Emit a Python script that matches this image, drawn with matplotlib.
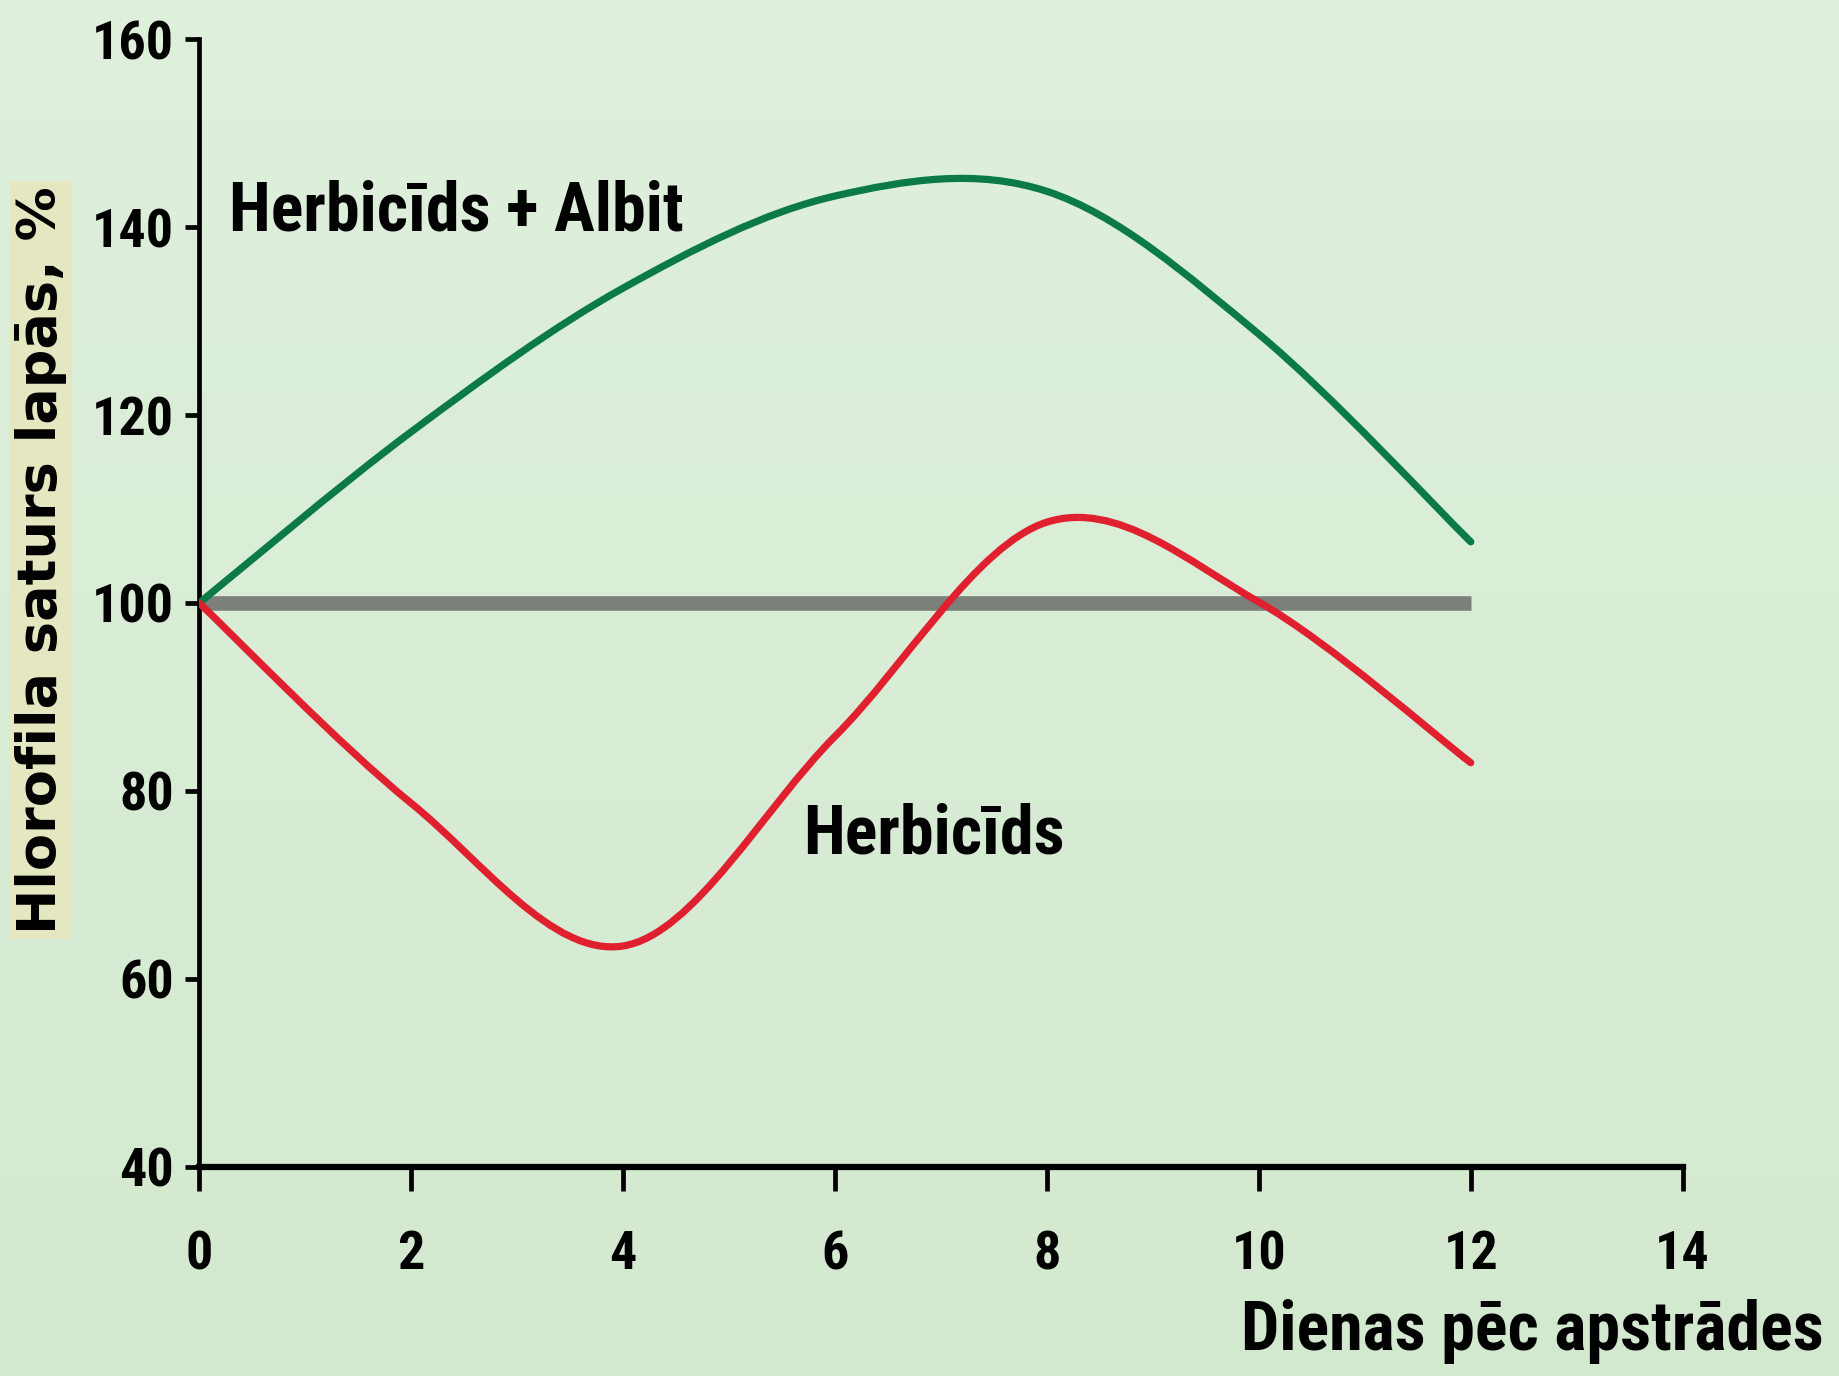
import numpy as np
import matplotlib

matplotlib.use("Agg")
import matplotlib.pyplot as plt
from matplotlib.path import Path
from matplotlib.patches import PathPatch

# days after treatment and chlorophyll content (% of control)
days = [0, 2, 4, 6, 8, 10, 12]
albit = [100, 118.2, 133.5, 143.3, 143.8, 128.6, 106.5]
herb = [100, 78.7, 63.5, 85.8, 108.6, 100.1, 83.0]
control_x = [0, 12]
control_y = [100, 100]

x_ticks = [0, 2, 4, 6, 8, 10, 12, 14]
y_ticks = [40, 60, 80, 100, 120, 140, 160]

NARROW = ["Roboto Condensed", "PT Sans Narrow", "Liberation Sans Narrow", "DejaVu Sans"]
GREEN = "#0b7a46"
RED = "#e01f2f"
GREY = "#7b807a"


def smooth(ax, xs, ys, **kw):
    # smoothed line like a spreadsheet chart: cubic Bezier through the points
    pts = np.column_stack([xs, ys]).astype(float)
    ext = np.vstack([pts[0], pts, pts[-1]])
    verts = [tuple(pts[0])]
    codes = [Path.MOVETO]
    for i in range(len(pts) - 1):
        p0, p1, p2, p3 = ext[i], ext[i + 1], ext[i + 2], ext[i + 3]
        verts += [tuple(p1 + (p2 - p0) / 6), tuple(p2 - (p3 - p1) / 6), tuple(p2)]
        codes += [Path.CURVE4] * 3
    ax.add_patch(PathPatch(Path(verts, codes), fill=False, capstyle="round", **kw))


fig = plt.figure(figsize=(18.39, 13.76), dpi=100)

# soft green background gradient
bg = fig.add_axes([0, 0, 1, 1], zorder=-10)
grad = np.linspace(0, 1, 256).reshape(-1, 1)
cmap = matplotlib.colors.LinearSegmentedColormap.from_list("bg", ["#dff0dd", "#d3e9cf"])
bg.imshow(grad, aspect="auto", cmap=cmap, extent=[0, 1, 0, 1])
bg.axis("off")

ax = fig.add_axes([0.1083, 0.152, 0.8067, 0.8196])
ax.patch.set_alpha(0)

ax.plot(control_x, control_y, color=GREY, lw=10.5, solid_capstyle="butt", zorder=2)
smooth(ax, days, albit, edgecolor=GREEN, lw=5.2, zorder=3)
smooth(ax, days, herb, edgecolor=RED, lw=5.2, zorder=3)

ax.set_xlim(0, 14)
ax.set_ylim(40, 160)
ax.set_xticks(x_ticks)
ax.set_yticks(y_ticks)
for s in ("top", "right"):
    ax.spines[s].set_visible(False)
ax.spines["left"].set_linewidth(3.4)
ax.spines["bottom"].set_linewidth(4.5)
ax.tick_params(axis="x", length=17, width=3.4, pad=28)
ax.tick_params(axis="y", length=10, width=3.4, pad=8)
for lab in ax.get_xticklabels() + ax.get_yticklabels():
    lab.set_family(NARROW)
    lab.set_fontweight("bold")
    lab.set_fontsize(39)

ax.text(0.28, 141.6, "Herbicīds + Albit", family=NARROW, fontweight="bold",
        fontsize=49, va="center", ha="left")
ax.text(5.7, 75.3, "Herbicīds", family=NARROW, fontweight="bold",
        fontsize=49, va="center", ha="left")

fig.text(0.9917, 0.0326, "Dienas pēc apstrādes", family=NARROW, fontweight="bold",
         fontsize=49, va="center", ha="right")
fig.text(0.0223, 0.593, "Hlorofila saturs lapās, %", family=["DejaVu Sans"],
         fontweight="bold", fontsize=39, rotation=90, va="center", ha="center",
         bbox=dict(boxstyle="square,pad=0.1", facecolor="#e4e7c0", edgecolor="none"))

fig.savefig("out.png", dpi=100)
